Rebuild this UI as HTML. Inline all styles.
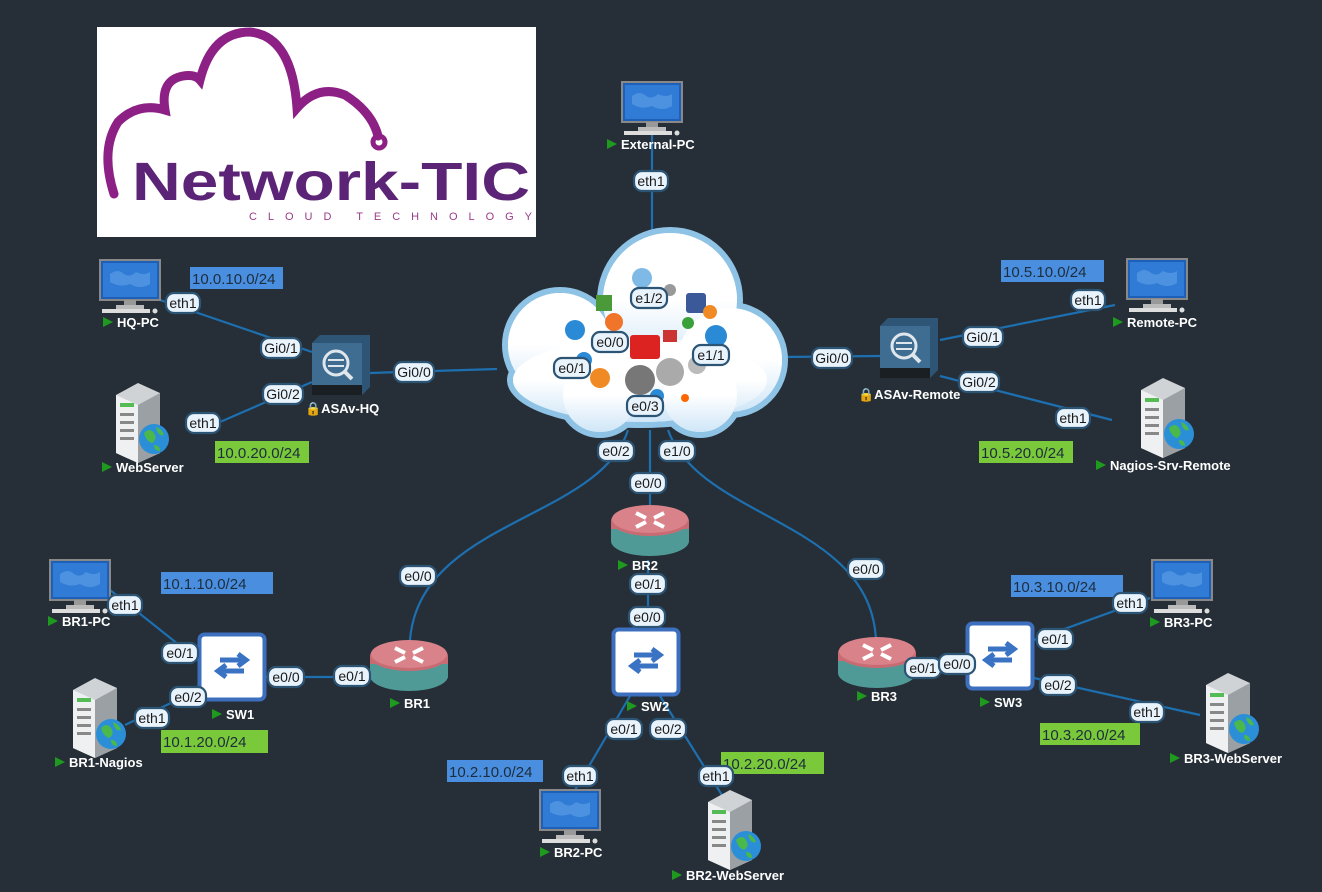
<!DOCTYPE html>
<html><head><meta charset="utf-8"><style>
html,body{margin:0;padding:0;background:#262f37;}
svg{display:block;}
.p rect{fill:#e9f3fc;stroke:#2c5475;stroke-width:2.2;}
.p text{font:14px "Liberation Sans",sans-serif;fill:#1a1a1a;text-anchor:middle;}
.n{font:bold 13px "Liberation Sans",sans-serif;fill:#fff;}
.net{font:15px "Liberation Sans",sans-serif;fill:#1d2d3d;}
.l{stroke:#1d6fb0;stroke-width:2.2;fill:none;}
</style></head><body>
<svg width="1322" height="892" viewBox="0 0 1322 892" xmlns="http://www.w3.org/2000/svg">
<defs>
<linearGradient id="cg" x1="0" y1="0" x2="0" y2="1"><stop offset="0.5" stop-color="#fff"/><stop offset="1" stop-color="#cfe6f7"/></linearGradient>
<g id="pc">
<rect x="0" y="0" width="60" height="40" fill="#1e5fb8" stroke="#888" stroke-width="2"/>
<rect x="3" y="3" width="54" height="34" fill="#2f7bd6"/>
<path d="M10 14 q8-6 14 0 q6 4 12-2 q8 4 14 0 v12 q-10 6-20 0 q-10 4-20-2z" fill="#4d92e0"/>
<rect x="24" y="40" width="12" height="6" fill="#999"/>
<rect x="16" y="45" width="28" height="4" fill="#bbb"/>
<rect x="2" y="49" width="48" height="4" fill="#ddd"/>
<circle cx="55" cy="51" r="2.5" fill="#ddd"/>
</g>
<g id="srv">
<path d="M8 12 l22 -12 l22 10 v60 l-22 10 l-22-10z" fill="#cfd3d6"/>
<path d="M8 12 l22 10 v58 l-22-10z" fill="#eef0f1"/>
<path d="M30 22 l22-12 v60 l-22 10z" fill="#9aa0a4"/>
<rect x="12" y="30" width="14" height="3" fill="#888"/><rect x="12" y="38" width="14" height="3" fill="#888"/>
<rect x="12" y="46" width="14" height="3" fill="#888"/><rect x="12" y="54" width="14" height="3" fill="#888"/>
<rect x="12" y="20" width="14" height="4" fill="#5b5"/>
<circle cx="46" cy="56" r="15" fill="#2b8fd8"/>
<path d="M36 50 q6-6 10 0 q4 6-2 10 q-6-2-8-10z M48 44 q6 2 8 8 q-6 2-8-8z M46 62 q6 0 6 6 q-6 0-6-6z" fill="#4bb84b"/>
</g>
<g id="rtr">
<ellipse cx="39" cy="38" rx="39" ry="15" fill="#4f9a97"/>
<rect x="0" y="18" width="78" height="20" fill="#4f9a97"/>
<ellipse cx="39" cy="18" rx="39" ry="15" fill="#c96b73"/>
<rect x="0" y="18" width="78" height="8" fill="#c96b73"/>
<ellipse cx="39" cy="16" rx="38" ry="14" fill="#d9828a"/>
<path d="M25 10 l10 5 M53 10 l-10 5 M25 24 l10 -5 M53 24 l-10 -5" stroke="#fff" stroke-width="4"/>
</g>
<g id="sw">
<rect x="1.5" y="1.5" width="65" height="65" rx="5" fill="#fff" stroke="#3d6fbf" stroke-width="4"/>
<path d="M22 27 h26 M40 21 l8 6 l-8 6 M46 38 h-26 M28 32 l-8 6 l8 6" stroke="#3a73c4" stroke-width="5" fill="none"/>
</g>
<g id="asa">
<path d="M0 8 l8-8 h50 v52 l-8 8z" fill="#2e5575"/>
<rect x="0" y="8" width="50" height="42" fill="#3f6d91"/>
<rect x="0" y="50" width="50" height="10" fill="#1a1f24"/>
<circle cx="24" cy="28" r="12" fill="none" stroke="#dfe6ec" stroke-width="3"/>
<path d="M32 36 l8 8" stroke="#dfe6ec" stroke-width="4"/>
<path d="M16 25 h16 M32 31 h-16" stroke="#dfe6ec" stroke-width="2"/>
</g>
<g id="tri"><path d="M0 0 l10 5 l-10 5z" fill="#1e9a1e"/></g>
</defs>

<!-- logo -->
<rect x="97" y="27" width="439" height="210" fill="#fff"/>
<path d="M114 194 Q100 150 118 122 Q138 102 165 110 Q160 80 183 76 Q195 74 200 80 Q212 32 250 32 Q292 36 297 108 Q318 84 345 95 Q372 112 378 136" fill="none" stroke="#8c2084" stroke-width="9" stroke-linecap="round"/>
<circle cx="379" cy="142" r="6" fill="none" stroke="#8c2084" stroke-width="5"/>
<text x="132" y="200" font-family="Liberation Sans,sans-serif" font-size="54" font-weight="bold" fill="#5c2476" textLength="398" lengthAdjust="spacingAndGlyphs">Network-TIC</text>
<text x="249" y="220" font-family="Liberation Sans,sans-serif" font-size="11" fill="#9a3a8a" textLength="283" lengthAdjust="spacing">CLOUD TECHNOLOGY</text>

<!-- links -->
<path class="l" d="M652 135 V232"/>
<path class="l" d="M160 300 L312 352"/>
<path class="l" d="M220 422 L312 382"/>
<path class="l" d="M370 373 L497 369"/>
<path class="l" d="M783 357 L880 356"/>
<path class="l" d="M940 340 L1115 305"/>
<path class="l" d="M940 376 L1112 420"/>
<path class="l" d="M628 430 C600 520 420 520 410 640"/>
<path class="l" d="M668 430 C700 520 870 520 876 640"/>
<path class="l" d="M650 430 V505"/>
<path class="l" d="M648 560 V630"/>
<path class="l" d="M448 677 H266"/>
<path class="l" d="M198 660 L110 590"/>
<path class="l" d="M198 690 L125 725"/>
<path class="l" d="M915 665 H966"/>
<path class="l" d="M1034 640 L1150 598"/>
<path class="l" d="M1034 678 L1200 715"/>
<path class="l" d="M630 696 L575 790"/>
<path class="l" d="M660 696 L725 800"/>

<!-- cloud -->
<g>
<g fill="#fff" stroke="#8fc3e6" stroke-width="6">
<circle cx="670" cy="300" r="70"/><circle cx="560" cy="345" r="55"/><circle cx="730" cy="360" r="55"/>
<ellipse cx="640" cy="380" rx="130" ry="45"/><circle cx="600" cy="395" r="40"/><circle cx="700" cy="395" r="40"/>
</g>
<g fill="url(#cg)"><circle cx="670" cy="300" r="67"/><circle cx="560" cy="345" r="52"/><circle cx="730" cy="360" r="52"/>
<ellipse cx="640" cy="380" rx="127" ry="42"/><circle cx="600" cy="395" r="37"/><circle cx="700" cy="395" r="37"/></g>
<circle cx="575" cy="330" r="10" fill="#2a8ad6"/><circle cx="614" cy="322" r="9" fill="#f0742a"/>
<rect x="686" y="293" width="20" height="20" rx="3" fill="#3b5998"/><rect x="630" y="335" width="30" height="24" rx="3" fill="#d22"/>
<circle cx="640" cy="380" r="15" fill="#777"/><circle cx="670" cy="372" r="14" fill="#aaa"/><circle cx="600" cy="378" r="10" fill="#f08a24"/>
<circle cx="716" cy="336" r="11" fill="#2a8ad6"/><rect x="596" y="295" width="16" height="16" fill="#4a9a3a"/>
<circle cx="688" cy="323" r="6" fill="#3aa13a"/><circle cx="584" cy="360" r="8" fill="#2a8ad6"/>
<circle cx="642" cy="278" r="10" fill="#2a8ad6" opacity="0.6"/><circle cx="670" cy="290" r="6" fill="#999"/>
<circle cx="710" cy="312" r="7" fill="#f08a24"/><rect x="663" y="330" width="14" height="12" fill="#c33"/>
<circle cx="697" cy="365" r="9" fill="#bbb"/><circle cx="657" cy="396" r="7" fill="#2a8ad6"/><circle cx="685" cy="398" r="4" fill="#f60"/>
</g>

<!-- icons -->
<use href="#pc" x="622" y="82"/>
<use href="#pc" x="100" y="260"/>
<use href="#pc" x="1127" y="259"/>
<use href="#pc" x="50" y="560"/>
<use href="#pc" x="1152" y="560"/>
<use href="#pc" x="540" y="790"/>
<use href="#srv" x="108" y="383"/>
<use href="#srv" x="1133" y="378"/>
<use href="#srv" x="65" y="678"/>
<use href="#srv" x="1198" y="673"/>
<use href="#srv" x="700" y="790"/>
<use href="#asa" x="312" y="335"/>
<use href="#asa" x="880" y="318"/>
<use href="#rtr" x="611" y="503"/>
<use href="#rtr" x="370" y="638"/>
<use href="#rtr" x="838" y="635"/>
<use href="#sw" x="612" y="628"/>
<use href="#sw" x="198" y="633"/>
<use href="#sw" x="966" y="622"/>

<!-- network boxes -->
<rect x="190" y="267" width="93" height="22" fill="#4a8ee0"/><text class="net" x="192" y="284">10.0.10.0/24</text>
<rect x="215" y="441" width="94" height="22" fill="#79c93a"/><text class="net" x="217" y="458">10.0.20.0/24</text>
<rect x="1001" y="260" width="103" height="22" fill="#4a8ee0"/><text class="net" x="1003" y="277">10.5.10.0/24</text>
<rect x="979" y="441" width="94" height="22" fill="#79c93a"/><text class="net" x="981" y="458">10.5.20.0/24</text>
<rect x="161" y="572" width="112" height="22" fill="#4a8ee0"/><text class="net" x="163" y="589">10.1.10.0/24</text>
<rect x="161" y="730" width="107" height="23" fill="#79c93a"/><text class="net" x="163" y="747">10.1.20.0/24</text>
<rect x="1011" y="575" width="112" height="22" fill="#4a8ee0"/><text class="net" x="1013" y="592">10.3.10.0/24</text>
<rect x="1040" y="723" width="100" height="22" fill="#79c93a"/><text class="net" x="1042" y="740">10.3.20.0/24</text>
<rect x="447" y="760" width="96" height="22" fill="#4a8ee0"/><text class="net" x="449" y="777">10.2.10.0/24</text>
<rect x="721" y="752" width="103" height="22" fill="#79c93a"/><text class="net" x="723" y="769">10.2.20.0/24</text>

<!-- node labels -->
<use href="#tri" x="607" y="139"/><text class="n" x="621" y="149">External-PC</text>
<use href="#tri" x="103" y="317"/><text class="n" x="117" y="327">HQ-PC</text>
<use href="#tri" x="102" y="462"/><text class="n" x="116" y="472">WebServer</text>
<text class="n" x="305" y="413">🔒ASAv-HQ</text>
<text class="n" x="858" y="399">🔒ASAv-Remote</text>
<use href="#tri" x="1113" y="317"/><text class="n" x="1127" y="327">Remote-PC</text>
<use href="#tri" x="1096" y="460"/><text class="n" x="1110" y="470">Nagios-Srv-Remote</text>
<use href="#tri" x="618" y="560"/><text class="n" x="632" y="570">BR2</text>
<use href="#tri" x="627" y="701"/><text class="n" x="641" y="711">SW2</text>
<use href="#tri" x="390" y="698"/><text class="n" x="404" y="708">BR1</text>
<use href="#tri" x="212" y="709"/><text class="n" x="226" y="719">SW1</text>
<use href="#tri" x="48" y="616"/><text class="n" x="62" y="626">BR1-PC</text>
<use href="#tri" x="55" y="757"/><text class="n" x="69" y="767">BR1-Nagios</text>
<use href="#tri" x="857" y="691"/><text class="n" x="871" y="701">BR3</text>
<use href="#tri" x="980" y="697"/><text class="n" x="994" y="707">SW3</text>
<use href="#tri" x="1150" y="617"/><text class="n" x="1164" y="627">BR3-PC</text>
<use href="#tri" x="1170" y="753"/><text class="n" x="1184" y="763">BR3-WebServer</text>
<use href="#tri" x="540" y="847"/><text class="n" x="554" y="857">BR2-PC</text>
<use href="#tri" x="672" y="870"/><text class="n" x="686" y="880">BR2-WebServer</text>

<!-- port pills -->
<g class="p" transform="translate(651,181)"><rect x="-17" y="-10" width="34" height="20" rx="8"/><text y="5">eth1</text></g>
<g class="p" transform="translate(183,303)"><rect x="-17" y="-10" width="34" height="20" rx="8"/><text y="5">eth1</text></g>
<g class="p" transform="translate(281,348)"><rect x="-20" y="-10" width="40" height="20" rx="8"/><text y="5">Gi0/1</text></g>
<g class="p" transform="translate(283,394)"><rect x="-20" y="-10" width="40" height="20" rx="8"/><text y="5">Gi0/2</text></g>
<g class="p" transform="translate(203,423)"><rect x="-17" y="-10" width="34" height="20" rx="8"/><text y="5">eth1</text></g>
<g class="p" transform="translate(414,372)"><rect x="-20" y="-10" width="40" height="20" rx="8"/><text y="5">Gi0/0</text></g>
<g class="p" transform="translate(649,298)"><rect x="-18" y="-10" width="36" height="20" rx="8"/><text y="5">e1/2</text></g>
<g class="p" transform="translate(610,342)"><rect x="-18" y="-10" width="36" height="20" rx="8"/><text y="5">e0/0</text></g>
<g class="p" transform="translate(572,368)"><rect x="-18" y="-10" width="36" height="20" rx="8"/><text y="5">e0/1</text></g>
<g class="p" transform="translate(711,355)"><rect x="-18" y="-10" width="36" height="20" rx="8"/><text y="5">e1/1</text></g>
<g class="p" transform="translate(645,406)"><rect x="-18" y="-10" width="36" height="20" rx="8"/><text y="5">e0/3</text></g>
<g class="p" transform="translate(832,358)"><rect x="-20" y="-10" width="40" height="20" rx="8"/><text y="5">Gi0/0</text></g>
<g class="p" transform="translate(983,337)"><rect x="-20" y="-10" width="40" height="20" rx="8"/><text y="5">Gi0/1</text></g>
<g class="p" transform="translate(979,382)"><rect x="-20" y="-10" width="40" height="20" rx="8"/><text y="5">Gi0/2</text></g>
<g class="p" transform="translate(1088,300)"><rect x="-17" y="-10" width="34" height="20" rx="8"/><text y="5">eth1</text></g>
<g class="p" transform="translate(1073,418)"><rect x="-17" y="-10" width="34" height="20" rx="8"/><text y="5">eth1</text></g>
<g class="p" transform="translate(616,451)"><rect x="-18" y="-10" width="36" height="20" rx="8"/><text y="5">e0/2</text></g>
<g class="p" transform="translate(677,451)"><rect x="-18" y="-10" width="36" height="20" rx="8"/><text y="5">e1/0</text></g>
<g class="p" transform="translate(648,483)"><rect x="-18" y="-10" width="36" height="20" rx="8"/><text y="5">e0/0</text></g>
<g class="p" transform="translate(418,576)"><rect x="-18" y="-10" width="36" height="20" rx="8"/><text y="5">e0/0</text></g>
<g class="p" transform="translate(866,569)"><rect x="-18" y="-10" width="36" height="20" rx="8"/><text y="5">e0/0</text></g>
<g class="p" transform="translate(648,584)"><rect x="-18" y="-10" width="36" height="20" rx="8"/><text y="5">e0/1</text></g>
<g class="p" transform="translate(647,617)"><rect x="-18" y="-10" width="36" height="20" rx="8"/><text y="5">e0/0</text></g>
<g class="p" transform="translate(624,729)"><rect x="-18" y="-10" width="36" height="20" rx="8"/><text y="5">e0/1</text></g>
<g class="p" transform="translate(668,729)"><rect x="-18" y="-10" width="36" height="20" rx="8"/><text y="5">e0/2</text></g>
<g class="p" transform="translate(580,776)"><rect x="-17" y="-10" width="34" height="20" rx="8"/><text y="5">eth1</text></g>
<g class="p" transform="translate(716,776)"><rect x="-17" y="-10" width="34" height="20" rx="8"/><text y="5">eth1</text></g>
<g class="p" transform="translate(352,676)"><rect x="-18" y="-10" width="36" height="20" rx="8"/><text y="5">e0/1</text></g>
<g class="p" transform="translate(286,677)"><rect x="-18" y="-10" width="36" height="20" rx="8"/><text y="5">e0/0</text></g>
<g class="p" transform="translate(180,653)"><rect x="-18" y="-10" width="36" height="20" rx="8"/><text y="5">e0/1</text></g>
<g class="p" transform="translate(188,697)"><rect x="-18" y="-10" width="36" height="20" rx="8"/><text y="5">e0/2</text></g>
<g class="p" transform="translate(125,605)"><rect x="-17" y="-10" width="34" height="20" rx="8"/><text y="5">eth1</text></g>
<g class="p" transform="translate(152,718)"><rect x="-17" y="-10" width="34" height="20" rx="8"/><text y="5">eth1</text></g>
<g class="p" transform="translate(923,668)"><rect x="-18" y="-10" width="36" height="20" rx="8"/><text y="5">e0/1</text></g>
<g class="p" transform="translate(957,664)"><rect x="-18" y="-10" width="36" height="20" rx="8"/><text y="5">e0/0</text></g>
<g class="p" transform="translate(1055,639)"><rect x="-18" y="-10" width="36" height="20" rx="8"/><text y="5">e0/1</text></g>
<g class="p" transform="translate(1058,685)"><rect x="-18" y="-10" width="36" height="20" rx="8"/><text y="5">e0/2</text></g>
<g class="p" transform="translate(1130,603)"><rect x="-17" y="-10" width="34" height="20" rx="8"/><text y="5">eth1</text></g>
<g class="p" transform="translate(1147,712)"><rect x="-17" y="-10" width="34" height="20" rx="8"/><text y="5">eth1</text></g>
</svg>
</body></html>
